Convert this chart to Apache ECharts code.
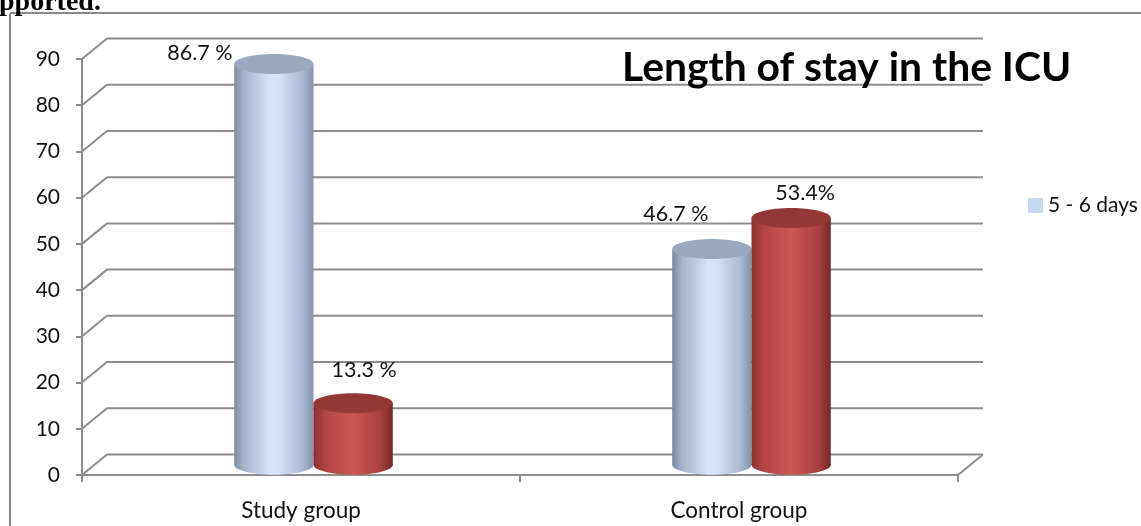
<!DOCTYPE html>
<html>
<head>
<meta charset="utf-8">
<script src="https://cdn.jsdelivr.net/npm/echarts@6/dist/echarts.min.js"></script>
<style>
html,body{margin:0;padding:0;background:#fff;}
#c{width:1141px;height:526px;}
</style>
</head>
<body>
<div id="c"></div>
<script>
// ---- data ----
const categories = ['Study group', 'Control group'];
const seriesNames = ['5 - 6 days', '> 6 days'];
const shortStay = [86.7, 46.7];
const longStay = [13.3, 53.4];
const shortLabels = ['86.7 %', '46.7 %'];
const longLabels = ['13.3 %', '53.4%'];
const yTicks = [0, 10, 20, 30, 40, 50, 60, 70, 80, 90];
const titleText = 'Length of stay in the ICU';
const headerText = 'pported.';

// ---- style ----
const DX = 25, DY = -20.5;           // 3D depth offset of the back wall
const GRID_COLOR = '#8c8c8c';
const FONT = 'Lato';
const LABEL_SHIFT = [
  [[-74, -11], [-36, -35]],          // blue series: study, control
  [[11, -33], [14, -25]]             // red series: study, control
];

const chart = echarts.init(document.getElementById('c'), null, {renderer: 'canvas'});

function wallRenderer(params, api) {
  const cs = params.coordSys;
  const y = api.coord([0, api.value(1)])[1];
  const x0 = cs.x, x1 = cs.x + cs.width;
  const line = {stroke: GRID_COLOR, lineWidth: 2, fill: null};
  const children = [{
    type: 'polyline',
    shape: {points: [[x0, y], [x0 + DX, y + DY], [x1 + DX, y + DY]]},
    style: line
  }];
  if (api.value(1) === 0) {
    children.push({
      type: 'polyline',
      shape: {points: [[x1, y], [x1 + DX, y + DY]]},
      style: line
    });
  }
  return {type: 'group', children};
}

function cylinderRenderer(sIdx, stops, topFill, labels) {
  return function (params, api) {
    const i = api.value(0), v = api.value(1);
    const base = api.coord([i, 0]);
    const top = api.coord([i, v]);
    const band = api.size([1, 0])[0];
    const w = band * 0.181;
    const side = sIdx === 0 ? -1 : 1;
    const cx = base[0] + DX / 2 + side * w / 2;
    const yb = base[1] + DY / 2;
    const yt = top[1] + DY / 2;
    const rx = w / 2, ry = 10;
    const grad = new echarts.graphic.LinearGradient(0, 0, 1, 0, stops);
    const sh = LABEL_SHIFT[sIdx][i];
    return {
      type: 'group',
      children: [
        {type: 'ellipse', shape: {cx, cy: yb, rx, ry}, style: {fill: grad}},
        {type: 'rect', shape: {x: cx - rx, y: yt, width: w, height: yb - yt}, style: {fill: grad}},
        {type: 'ellipse', shape: {cx, cy: yt, rx, ry}, style: {fill: topFill}},
        {type: 'text', style: {
          text: labels[i], x: cx + sh[0], y: yt + sh[1],
          align: 'center', verticalAlign: 'middle',
          font: '21.5px ' + FONT, fill: '#111'
        }}
      ]
    };
  };
}

const blueStops = [
  {offset: 0, color: '#7b8aa0'},
  {offset: 0.12, color: '#a2b4cc'},
  {offset: 0.45, color: '#d3e6fc'},
  {offset: 0.58, color: '#d0e2f8'},
  {offset: 0.86, color: '#a8bad3'},
  {offset: 1, color: '#8293ab'}
];
const redStops = [
  {offset: 0, color: '#8a3230'},
  {offset: 0.15, color: '#b04543'},
  {offset: 0.5, color: '#cf5653'},
  {offset: 0.85, color: '#a5403e'},
  {offset: 1, color: '#762927'}
];

const option = {
  backgroundColor: '#fff',
  animation: false,
  title: {
    text: titleText,
    left: 617, top: 42,
    textStyle: {fontFamily: FONT, fontSize: 40.8, fontWeight: 'bold', color: '#000'}
  },
  legend: {
    data: [seriesNames[0]],
    left: 1028, top: 195, padding: 0,
    icon: 'rect', itemWidth: 15, itemHeight: 15, itemGap: 8,
    textStyle: {fontFamily: FONT, fontSize: 21, color: '#111', padding: [0, 0, 0, 0]}
  },
  grid: {left: 82, top: 59, width: 876, height: 416, containLabel: false},
  xAxis: {
    type: 'category',
    data: categories,
    axisLine: {lineStyle: {color: GRID_COLOR, width: 2}},
    axisTick: {show: true, length: 7, interval: 0, lineStyle: {color: GRID_COLOR, width: 2}},
    axisLabel: {fontFamily: FONT, fontSize: 22.5, color: '#111', margin: 24},
    splitLine: {show: false}
  },
  yAxis: {
    type: 'value',
    min: 0, max: 90, interval: 10,
    axisLine: {show: true, lineStyle: {color: GRID_COLOR, width: 2}},
    axisTick: {show: true, length: 6, lineStyle: {color: GRID_COLOR, width: 2}},
    axisLabel: {fontFamily: FONT, fontSize: 21, color: '#111', margin: 22, padding: [6, 0, 0, 0]},
    splitLine: {show: false}
  },
  series: [
    {
      type: 'custom', name: 'walls', z: 1, silent: true,
      renderItem: wallRenderer,
      data: yTicks.map(v => [0, v])
    },
    {
      type: 'custom', name: seriesNames[0], z: 3,
      itemStyle: {color: '#c5d9f1'},
      renderItem: cylinderRenderer(0, blueStops, '#9aa9be', shortLabels),
      data: shortStay.map((v, i) => [i, v])
    },
    {
      type: 'custom', name: seriesNames[1], z: 3,
      itemStyle: {color: '#c0504d'},
      renderItem: cylinderRenderer(1, redStops, '#943836', longLabels),
      data: longStay.map((v, i) => [i, v])
    }
  ],
  graphic: [
    {type: 'line', shape: {x1: 10, y1: 13, x2: 1141, y2: 13}, style: {stroke: '#8a8a8a', lineWidth: 2}},
    {type: 'line', shape: {x1: 10, y1: 13, x2: 10, y2: 526}, style: {stroke: '#8a8a8a', lineWidth: 2}},
    {type: 'text', x: -1, y: 3, style: {text: headerText, font: 'bold 28px "Liberation Serif"', fill: '#000', verticalAlign: 'middle'}}
  ]
};
chart.setOption(option);
</script>
</body>
</html>
